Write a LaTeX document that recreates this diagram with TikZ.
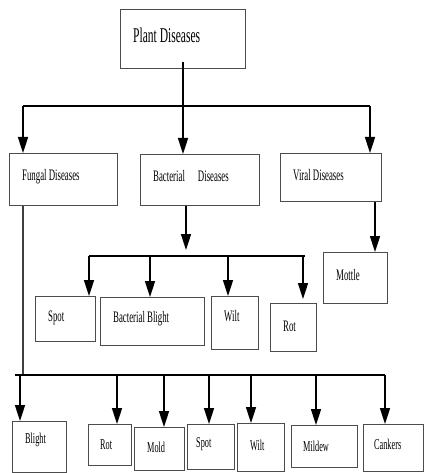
\documentclass[tikz,border=0pt]{standalone}
\usepackage{fontspec}
\setmainfont{Liberation Serif}[FakeStretch=0.55]
\usetikzlibrary{arrows.meta}
\tikzset{
  box/.style={draw=black!70, line width=1pt, rectangle, inner sep=0pt, anchor=north west},
  lbl/.style={anchor=base west, inner sep=0pt, font=\fontsize{16}{18}\selectfont},
  lblsm/.style={anchor=base west, inner sep=0pt, font=\fontsize{15}{17}\selectfont},
  ln/.style={draw=black, line width=1.6pt},
  thin/.style={draw=black!75, line width=1.1pt},
  arr/.style={ln, -{Triangle[width=10pt,length=16pt]}}
}
\begin{document}
\begin{tikzpicture}[x=1pt,y=-1pt]
\useasboundingbox (0,0) rectangle (424,473);
% boxes
\node[box, minimum width=125pt, minimum height=59pt] (plant) at (120,9) {};
\node[box, minimum width=108pt, minimum height=52pt] (fung) at (9,153) {};
\node[box, minimum width=119pt, minimum height=51pt] (bact) at (140,154) {};
\node[box, minimum width=101pt, minimum height=48pt] (vir) at (280,153) {};
\node[box, minimum width=60pt, minimum height=45pt] (bspot) at (35,296) {};
\node[box, minimum width=104pt, minimum height=48pt] (bblight) at (100,297) {};
\node[box, minimum width=47pt, minimum height=53pt] (bwilt) at (211,296) {};
\node[box, minimum width=46pt, minimum height=48pt] (brot) at (270,303) {};
\node[box, minimum width=64pt, minimum height=51pt] (mottle) at (323,252) {};
\node[box, minimum width=54pt, minimum height=51pt] (fblight) at (12,421) {};
\node[box, minimum width=43pt, minimum height=41pt] (frot) at (88,424) {};
\node[box, minimum width=50pt, minimum height=43pt] (fmold) at (134,427) {};
\node[box, minimum width=47pt, minimum height=45pt] (fspot) at (187,424) {};
\node[box, minimum width=47pt, minimum height=48pt] (fwilt) at (237,423) {};
\node[box, minimum width=66pt, minimum height=42pt] (fmildew) at (291,425) {};
\node[box, minimum width=60pt, minimum height=47pt] (fcank) at (363,424) {};
% labels
\node[anchor=base west, inner sep=0pt, font=\fontsize{21}{24}\selectfont] (tplant) at (133,43) {Plant Diseases};
\node[lbl] (tfung) at (22,180) {Fungal Diseases};
\node[lbl] (tbact) at (153,181) {Bacterial\hspace{13pt}Diseases};
\node[lbl] (tvir) at (293,180) {Viral Diseases};
\node[lbl] (tbspot) at (48,321) {Spot};
\node[lbl] (tbblight) at (113,322) {Bacterial Blight};
\node[lbl] (tbwilt) at (224,321) {Wilt};
\node[lbl] (tbrot) at (283,331) {Rot};
\node[lbl] (tmottle) at (336,280) {Mottle};
\node[lblsm] (tfblight) at (25,443) {Blight};
\node[lblsm] (tfrot) at (100,449) {Rot};
\node[lblsm] (tfmold) at (147,452) {Mold};
\node[lblsm] (tfspot) at (196,447) {Spot};
\node[lblsm] (tfwilt) at (250,450) {Wilt};
\node[lblsm] (tfmildew) at (303,451) {Mildew};
\node[lblsm] (tfcank) at (374,449) {Cankers};
% junction coordinates
\coordinate (j1l) at (23,106);
\coordinate (j1r) at (370,106);
\coordinate (j2l) at (89,256);
\coordinate (j2r) at (305,256);
\coordinate (j3) at (23,375);
\coordinate (j3l) at (15,375);
\coordinate (j3r) at (385,375);
% top level
\draw[ln] (j1l) -- (j1r);
\draw[arr] (183,62) -- (183,0 |- bact.north);
\draw[arr] (j1l) -- (j1l |- fung.north);
\draw[arr] (j1r) -- (j1r |- vir.north);
% bacterial
\draw[arr] (186,0 |- bact.south) -- (186,250);
\draw[ln] (j2l) -- (j2r);
\draw[arr] (j2l) -- (89,0 |- bspot.north);
\draw[arr] (150,256) -- (150,0 |- bblight.north);
\draw[arr] (228,256) -- (228,0 |- bwilt.north);
\draw[arr] (303,256) -- (303,299);
% viral
\draw[arr] (375,0 |- vir.south) -- (375,0 |- mottle.north);
% fungal
\draw[thin] (23,0 |- fung.south) -- (j3);
\draw[ln] (j3l) -- (j3r);
\draw[arr] (20,375) -- (20,0 |- fblight.north);
\draw[arr] (117,375) -- (117,0 |- frot.north);
\draw[arr] (164,375) -- (164,0 |- fmold.north);
\draw[arr] (209,375) -- (209,0 |- fspot.north);
\draw[arr] (251,375) -- (251,0 |- fwilt.north);
\draw[arr] (316,375) -- (316,0 |- fmildew.north);
\draw[arr] (j3r) -- (385,0 |- fcank.north);
\end{tikzpicture}
\end{document}
